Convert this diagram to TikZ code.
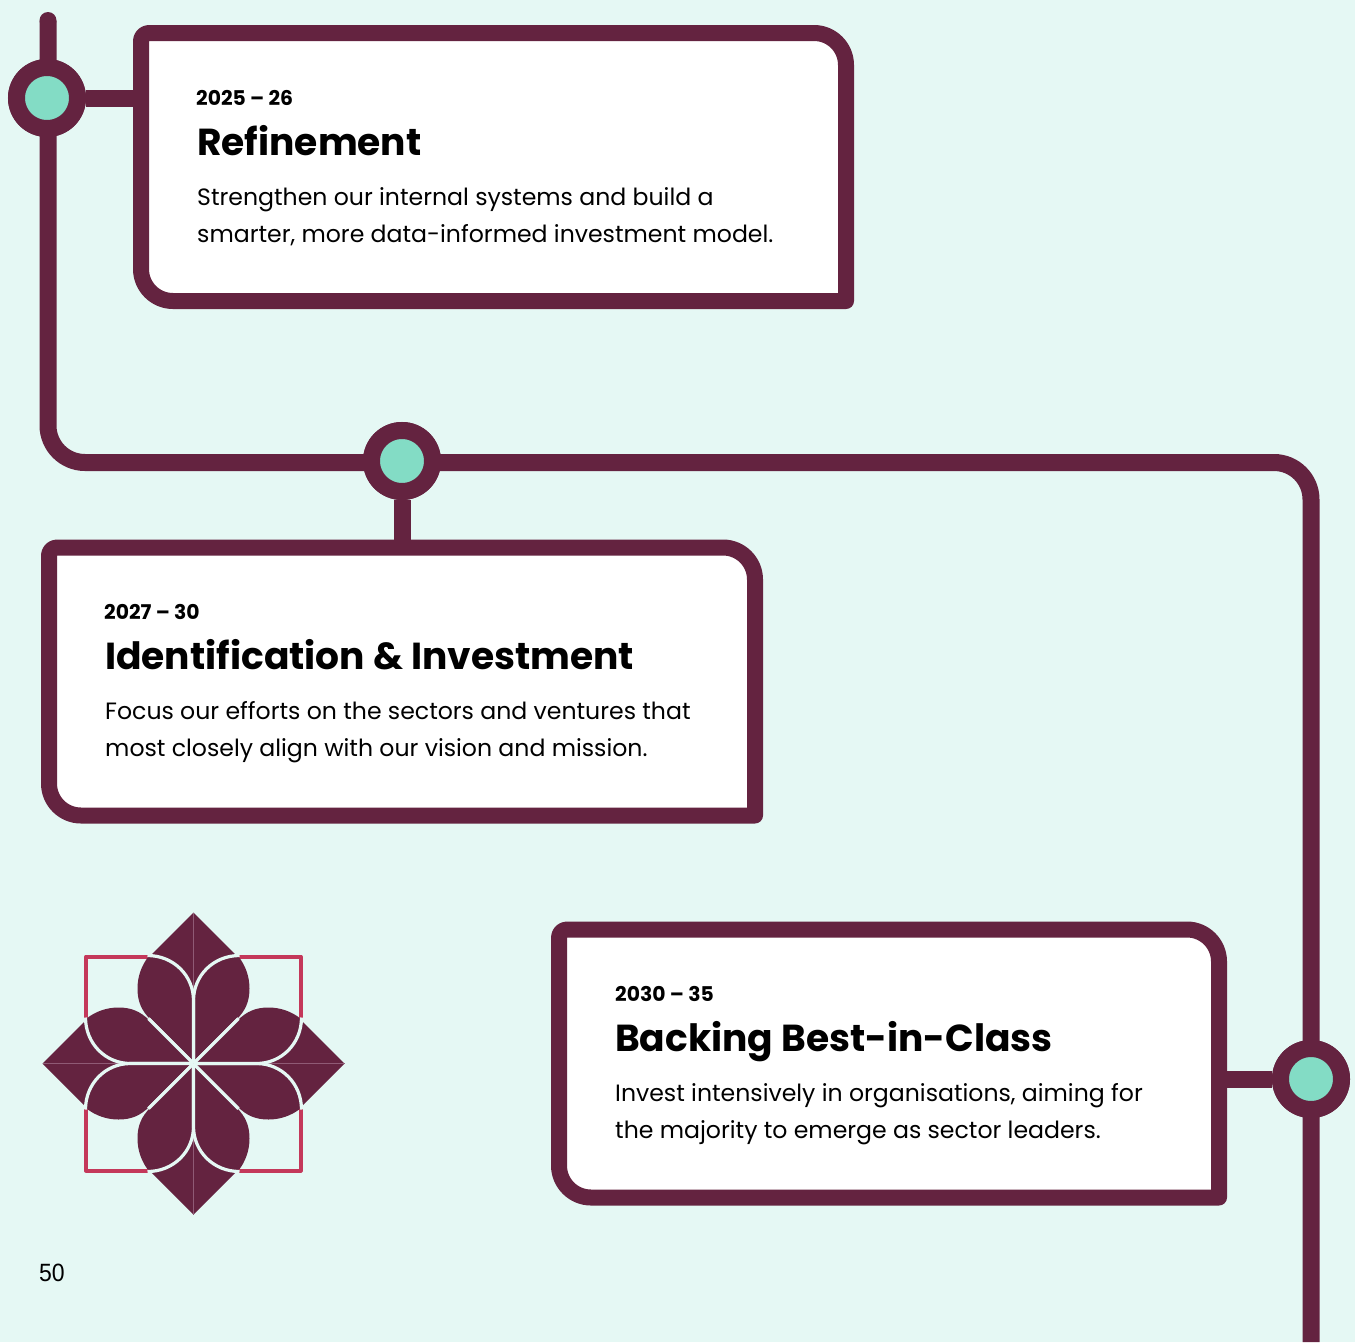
\documentclass[tikz,border=0pt]{standalone}
\usepackage{fontspec}
\setmainfont{Poppins}
\newfontfamily\pagefont[FakeStretch=0.92]{Liberation Sans}
\usetikzlibrary{calc}
\definecolor{paleground}{HTML}{E5F8F4}
\definecolor{plumline}{HTML}{642340}
\definecolor{hubteal}{HTML}{83DCC5}
\definecolor{squarered}{HTML}{C4385A}
\definecolor{seamline}{HTML}{8F5A75}

\begin{document}
\begin{tikzpicture}[x=1pt, y=-1pt,
    trackline/.style={draw=plumline, line width=17pt},
    hubdot/.style={circle, draw=plumline, fill=hubteal, line width=17pt, minimum size=61pt, inner sep=0pt},
    cardbox/.style={rectangle, minimum width=#1, minimum height=268pt, inner sep=0pt, outer sep=0pt},
    datetext/.style={anchor=base west, inner sep=0pt, font=\fontsize{20.3}{20.3}\selectfont\bfseries},
    titletext/.style={anchor=base west, inner sep=0pt, font=\fontsize{37.6}{37.6}\selectfont\bfseries},
    bodytext/.style={anchor=base west, inner sep=0pt, font=\fontsize{23.6}{23.6}\selectfont},
    petalcut/.style={draw=paleground, line width=3.2pt}]

  \newcommand\cardframe[1]{
    \draw[draw=plumline, line width=16pt, fill=white, line join=round]
      (#1.north) [rounded corners=32pt] -- (#1.north east) [sharp corners] -- (#1.south east)
      [rounded corners=32pt] -- (#1.south west) [rounded corners=8pt] -- (#1.north west) -- cycle;
  }

  \fill[paleground] (0,0) rectangle (1355,1342);
  \useasboundingbox (0,0) rectangle (1355,1342);

  \coordinate (trackTop) at (48,20.5);
  \coordinate (trackBendA) at (48,462.5);
  \coordinate (trackBendB) at (1311,462.5);
  \coordinate (trackEnd) at (1311,1342);

  \node[cardbox=705pt] (refineCard) at (493.5,167) {};
  \node[cardbox=706pt] (identCard) at (402,681.5) {};
  \node[cardbox=660pt] (backingCard) at (889,1063.5) {};

  \node[hubdot] (hubA) at (47,98) {};
  \node[hubdot] (hubB) at (402,461) {};
  \node[hubdot] (hubC) at (1311,1079) {};

  %% main line
  \draw[trackline, rounded corners=37pt] (trackTop) -- (trackBendA) -- (trackBendB) -- (trackEnd);
  \fill[plumline] (trackTop) circle (8.5pt);

  \draw[trackline] (hubA) -- (hubA -| refineCard.west);
  \draw[trackline] (hubB) -- (hubB |- identCard.north);
  \draw[trackline] (hubC) -- (hubC -| backingCard.east);

  \node[hubdot] at (hubA) {};
  \node[hubdot] at (hubB) {};
  \node[hubdot] at (hubC) {};

  \cardframe{refineCard}
  \cardframe{identCard}
  \cardframe{backingCard}

  \node[datetext] (refineDate) at (196,105) {2025 – 26};
  \node[titletext] (refineTitle) at (197,155) {Refinement};
  \node[bodytext] (refineBodyA) at (197,205) {Strengthen our internal systems and build a};
  \node[bodytext] (refineBodyB) at (197,242) {smarter, more data-informed investment model.};

  \node[datetext] (identDate) at (104,619) {2027 – 30};
  \node[titletext] (identTitle) at (105,669) {Identification \& Investment};
  \node[bodytext] (identBodyA) at (105,719) {Focus our efforts on the sectors and ventures that};
  \node[bodytext] (identBodyB) at (105,756) {most closely align with our vision and mission.};

  \node[datetext] (backingDate) at (615,1001) {2030 – 35};
  \node[titletext] (backingTitle) at (615,1051) {Backing Best-in-Class};
  \node[bodytext] (backingBodyA) at (615,1101) {Invest intensively in organisations, aiming for};
  \node[bodytext] (backingBodyB) at (615,1138) {the majority to emerge as sector leaders.};

  %% flower
  \draw[squarered, line width=4pt, line join=round] (86,956.5) rectangle (300.5,1170.5);
  \begin{scope}[shift={(193.5,1063.5)}]
    \foreach \a in {0,90,180,270} {
      \begin{scope}[rotate=\a]
        \fill[plumline] (0,-151) -- (44,-107) -- (0,-55) -- (-44,-107) -- cycle;
        \draw[seamline, line width=0.6pt] (0,-151) -- (0,-68);
        \foreach \s in {1,-1} {
          \begin{scope}[xscale=\s]
            \fill[plumline] (0,0) -- (0,-63) .. controls (0,-88) and (20,-108) .. (45,-107)
              .. controls (52,-98) and (56,-87) .. (56,-75)
              .. controls (56,-62) and (52,-53) .. (43,-44) -- cycle;
            \draw[petalcut] (0,0) -- (0,-63) .. controls (0,-88) and (20,-108) .. (46,-108);
            \draw[petalcut] (0,0) -- (45,-45);
          \end{scope}
        }
      \end{scope}
    }
  \end{scope}

  \node[anchor=base west, inner sep=0pt, font=\fontsize{25}{25}\selectfont\pagefont] (pageNumber) at (39,1281.5) {50};
\end{tikzpicture}
\end{document}
